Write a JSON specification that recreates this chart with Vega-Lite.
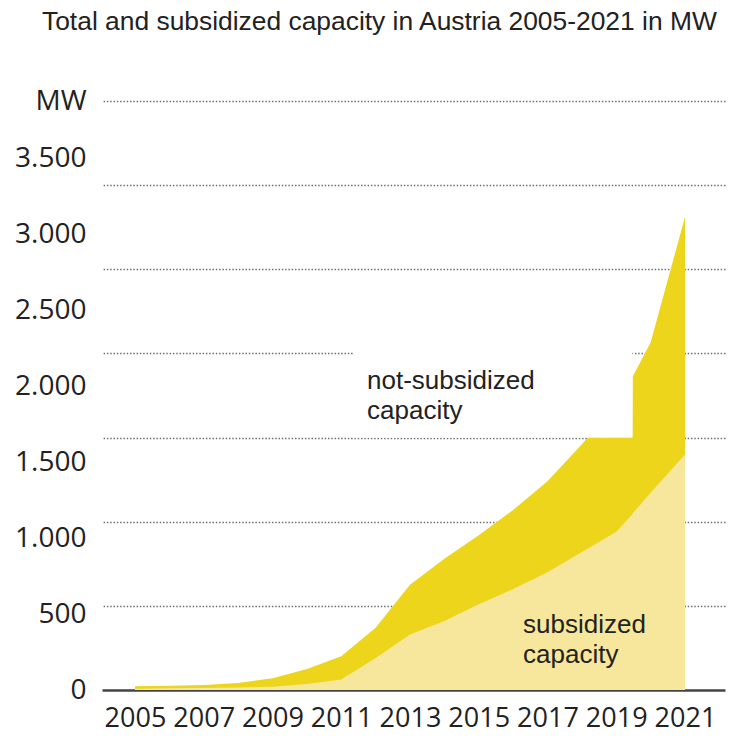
{
  "$schema": "https://vega.github.io/schema/vega-lite/v6.json",
  "autosize": {"type": "none"},
  "width": 623,
  "height": 589,
  "padding": {"left": 102, "top": 101, "right": 4, "bottom": 46},
  "background": "white",
  "title": {
    "text": "Total and subsidized capacity in Austria 2005-2021 in MW",
    "anchor": "start",
    "frame": "group",
    "dx": -60,
    "offset": 52,
    "font": "Liberation Sans",
    "fontSize": 26.4,
    "fontWeight": "normal",
    "color": "#222222"
  },
  "config": {"view": {"stroke": null}},
  "datasets": {
    "capacity": [
      {"year": 2005, "total": 22, "subsidized": 8},
      {"year": 2006, "total": 25, "subsidized": 10},
      {"year": 2007, "total": 30, "subsidized": 12},
      {"year": 2008, "total": 42, "subsidized": 15},
      {"year": 2009, "total": 70, "subsidized": 20},
      {"year": 2010, "total": 125, "subsidized": 35},
      {"year": 2011, "total": 200, "subsidized": 62},
      {"year": 2012, "total": 370, "subsidized": 190},
      {"year": 2013, "total": 625, "subsidized": 330},
      {"year": 2014, "total": 780, "subsidized": 410},
      {"year": 2015, "total": 920, "subsidized": 510},
      {"year": 2016, "total": 1070, "subsidized": 600},
      {"year": 2017, "total": 1240, "subsidized": 700},
      {"year": 2018, "total": 1460, "subsidized": 820},
      {"year": 2018.17, "total": 1500, "subsidized": 840},
      {"year": 2019, "total": 1500, "subsidized": 940},
      {"year": 2019.47, "total": 1500, "subsidized": 1045},
      {"year": 2019.48, "total": 1863, "subsidized": 1050},
      {"year": 2020, "total": 2065, "subsidized": 1172},
      {"year": 2021, "total": 2810, "subsidized": 1399}
    ],
    "labelbox": [
      {"from": 2011.35, "to": 2019.47, "low": 1500, "high": 2060}
    ],
    "notes": [
      {"label": "not-subsidized\ncapacity", "year": 2011.75, "value": 1786},
      {"label": "subsidized\ncapacity", "year": 2016.29, "value": 339}
    ]
  },
  "resolve": {"scale": {"y": "independent"}, "axis": {"y": "independent"}},
  "layer": [
    {
      "data": {"name": "capacity"},
      "mark": {"type": "area", "color": "#EDD51B", "interpolate": "linear"},
      "encoding": {
        "x": {
          "field": "year", "type": "quantitative",
          "scale": {"domain": [2004.04, 2022.164], "nice": false, "zero": false},
          "axis": {
            "values": [2005, 2007, 2009, 2011, 2013, 2015, 2017, 2019, 2021],
            "format": "d",
            "title": null,
            "grid": false,
            "ticks": false,
            "domain": true,
            "domainColor": "#444444",
            "domainWidth": 2.5,
            "labelFont": "Open Sans",
            "labelFontSize": 27,
            "labelColor": "#222222",
            "labelPadding": 15,
            "labelFlush": false,
            "labelOverlap": false
          }
        },
        "y": {
          "field": "total", "type": "quantitative",
          "scale": {"domain": [0, 3500], "nice": false},
          "axis": {
            "orient": "right",
            "values": [500, 1000, 1500, 2000, 2500, 3000, 3500],
            "title": null,
            "labels": false,
            "ticks": false,
            "domain": false,
            "grid": true,
            "gridColor": "#6f6f6f",
            "gridWidth": 1.5,
            "gridDash": [1.5, 1.8]
          }
        }
      }
    },
    {
      "data": {"name": "capacity"},
      "mark": {"type": "area", "color": "#F7E79C", "interpolate": "linear"},
      "encoding": {
        "x": {"field": "year", "type": "quantitative"},
        "y": {"field": "subsidized", "type": "quantitative", "scale": {"domain": [0, 3500], "nice": false}, "axis": null}
      }
    },
    {
      "data": {"name": "labelbox"},
      "mark": {"type": "rect", "color": "white"},
      "encoding": {
        "x": {"field": "from", "type": "quantitative"},
        "x2": {"field": "to"},
        "y": {"field": "low", "type": "quantitative", "scale": {"domain": [0, 3500], "nice": false}, "axis": null},
        "y2": {"field": "high"}
      }
    },
    {
      "data": {"name": "notes"},
      "mark": {"type": "text", "align": "left", "baseline": "alphabetic", "font": "Liberation Sans", "fontSize": 26, "lineHeight": 30, "lineBreak": "\n", "color": "#222222"},
      "encoding": {
        "x": {"field": "year", "type": "quantitative"},
        "y": {"field": "value", "type": "quantitative", "scale": {"domain": [0, 3500], "nice": false}, "axis": null},
        "text": {"field": "label"}
      }
    },
    {
      "data": {"name": "capacity"},
      "mark": {"type": "point", "opacity": 0},
      "encoding": {
        "x": {"field": "year", "type": "quantitative"},
        "y": {
          "field": "total", "type": "quantitative",
          "scale": {"domain": [0, 3875], "nice": false},
          "axis": {
            "orient": "left",
            "values": [0, 500, 1000, 1500, 2000, 2500, 3000, 3500, 3875],
            "labelExpr": "datum.value > 3600 ? 'MW' : replace(format(datum.value, ','), ',', '.')",
            "title": null,
            "grid": false,
            "ticks": false,
            "domain": false,
            "labelFont": "Open Sans",
            "labelFontSize": 28,
            "labelColor": "#222222",
            "labelPadding": 16,
            "labelFlush": false,
            "labelOverlap": false,
            "encode": {"labels": {"update": {"dx": {"signal": "datum.value > 3600 ? -15 : 0"}, "fontSize": {"signal": "datum.value > 3600 ? 24 : 28"}}}}
          }
        }
      }
    }
  ]
}
